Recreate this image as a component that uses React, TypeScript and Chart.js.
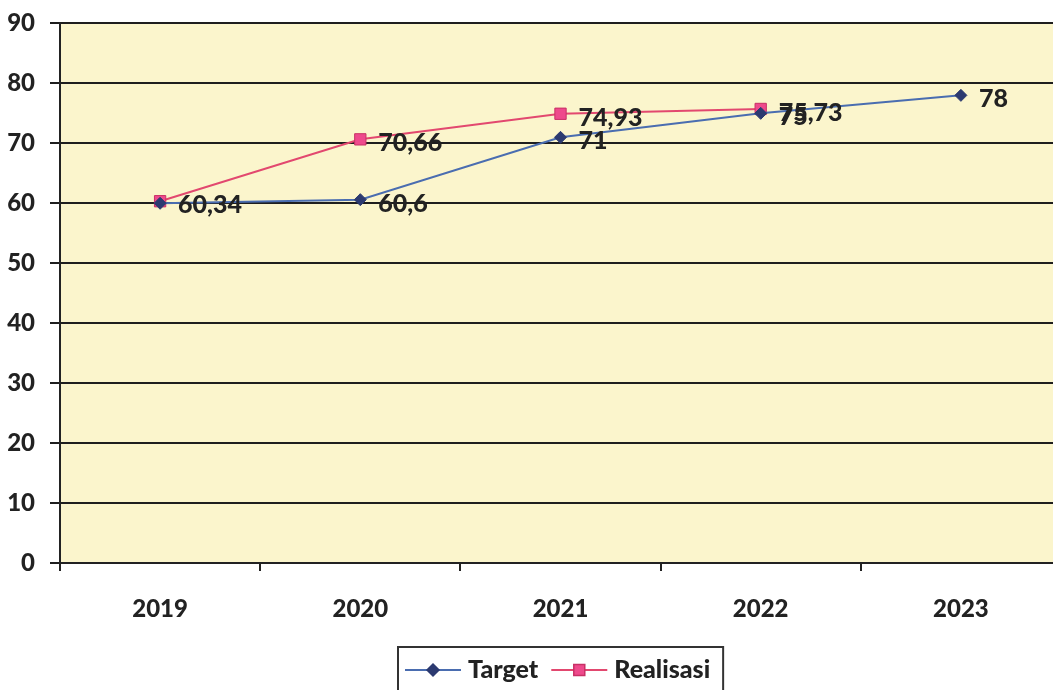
import React, { useEffect, useRef } from "react";
import { Chart, registerables } from "chart.js";

Chart.register(...registerables);

const years = ["2019", "2020", "2021", "2022", "2023"];
const targetValues = [60, 60.6, 71, 75, 78];
const realisasiValues: (number | null)[] = [60.34, 70.66, 74.93, 75.73, null];
// value labels as printed next to each point (null = no label)
const targetLabels: (string | null)[] = [null, "60,6", "71", "75", "78"];
const realisasiLabels: (string | null)[] = ["60,34", "70,66", "74,93", "75,73", null];
const yTicks = [0, 10, 20, 30, 40, 50, 60, 70, 80, 90];

const FONT = "Lato, 'DejaVu Sans', sans-serif";
const WEIGHT = "900";
const TEXT = "#222222";
const TARGET_LINE = "#4a6db0";
const TARGET_MARK = "#2c3a70";
const REAL_LINE = "#e2486f";
const REAL_MARK = "#ee4a8c";

const plotBackground = {
  id: "plotBackground",
  beforeDraw(chart: any) {
    const { ctx, chartArea } = chart;
    ctx.save();
    ctx.fillStyle = "#fbf5cc";
    ctx.fillRect(chartArea.left, chartArea.top, chartArea.right - chartArea.left, chartArea.bottom - chartArea.top);
    ctx.restore();
  },
};

const valueLabels = {
  id: "valueLabels",
  afterDatasetsDraw(chart: any) {
    const { ctx } = chart;
    const sets = [targetLabels, realisasiLabels];
    ctx.save();
    ctx.font = `${WEIGHT} 25px ${FONT}`;
    ctx.fillStyle = TEXT;
    ctx.textAlign = "left";
    ctx.textBaseline = "middle";
    sets.forEach((labels, di) => {
      const meta = chart.getDatasetMeta(di);
      meta.data.forEach((pt: any, i: number) => {
        const txt = labels[i];
        if (!txt) return;
        ctx.fillText(txt, pt.x + 18, pt.y + 4);
      });
    });
    ctx.restore();
  },
};

function drawMarker(ctx: CanvasRenderingContext2D, style: string, x: number, y: number, fill: string, stroke: string) {
  ctx.save();
  ctx.fillStyle = fill;
  ctx.strokeStyle = stroke;
  ctx.lineWidth = 1.5;
  ctx.beginPath();
  if (style === "rectRot") {
    ctx.moveTo(x, y - 6);
    ctx.lineTo(x + 6, y);
    ctx.lineTo(x, y + 6);
    ctx.lineTo(x - 6, y);
    ctx.closePath();
  } else {
    ctx.rect(x - 5.5, y - 5.5, 11, 11);
  }
  ctx.fill();
  ctx.stroke();
  ctx.restore();
}

const boxedLegend = {
  id: "boxedLegend",
  afterDraw(chart: any) {
    const { ctx, chartArea } = chart;
    const ds = chart.data.datasets;
    ctx.save();
    ctx.font = `${WEIGHT} 25px ${FONT}`;
    const lineLen = 56;
    const widths = ds.map((d: any) => ctx.measureText(d.label).width);
    const padL = 7, gapT = 7, gapItem = 13, padR = 13;
    const total = padL + ds.length * (lineLen + gapT) + widths.reduce((a: number, b: number) => a + b, 0) + gapItem * (ds.length - 1) + padR;
    const cx = (chartArea.left + chartArea.right) / 2;
    const left = Math.round(cx - total / 2);
    const top = chartArea.bottom + 84;
    const cy = chartArea.bottom + 107;
    ctx.fillStyle = "#ffffff";
    ctx.fillRect(left, top, total, 60);
    ctx.strokeStyle = "#333333";
    ctx.lineWidth = 2;
    ctx.strokeRect(left, top, total, 60);
    let x = left + padL;
    ds.forEach((d: any, i: number) => {
      ctx.strokeStyle = d.borderColor;
      ctx.lineWidth = 2;
      ctx.beginPath();
      ctx.moveTo(x, cy);
      ctx.lineTo(x + lineLen, cy);
      ctx.stroke();
      drawMarker(ctx, d.pointStyle, x + lineLen / 2, cy, d.pointBackgroundColor, d.pointBorderColor);
      x += lineLen + gapT;
      ctx.fillStyle = TEXT;
      ctx.textAlign = "left";
      ctx.textBaseline = "middle";
      ctx.fillText(d.label, x, cy);
      x += widths[i] + gapItem;
    });
    ctx.restore();
  },
};

export default function App() {
  const ref = useRef<HTMLCanvasElement | null>(null);

  useEffect(() => {
    if (!ref.current) return;
    const chart = new Chart(ref.current, {
      type: "line",
      data: {
        labels: years,
        datasets: [
          {
            label: "Target",
            data: targetValues,
            borderColor: TARGET_LINE,
            borderWidth: 2,
            pointStyle: "rectRot",
            pointRadius: 6,
            pointBackgroundColor: TARGET_MARK,
            pointBorderColor: TARGET_MARK,
            pointBorderWidth: 1,
            tension: 0,
          },
          {
            label: "Realisasi",
            data: realisasiValues,
            borderColor: REAL_LINE,
            borderWidth: 2,
            pointStyle: "rect",
            pointRadius: 8,
            pointBackgroundColor: REAL_MARK,
            pointBorderColor: "#c83066",
            pointBorderWidth: 1,
            tension: 0,
          },
        ],
      },
      options: {
        animation: false,
        responsive: false,
        maintainAspectRatio: false,
        layout: { padding: { top: 0, left: 0, right: 0, bottom: 0 } },
        plugins: {
          legend: { display: false },
          tooltip: { enabled: false },
        },
        scales: {
          x: {
            offset: true,
            grid: {
              offset: true,
              drawOnChartArea: false,
              color: "#222222",
              lineWidth: 2,
              tickLength: 8,
            },
            border: { color: "#222222", width: 2 },
            ticks: {
              color: TEXT,
              font: { family: FONT, size: 24, weight: WEIGHT },
              padding: 24,
            },
            afterFit(scale: any) {
              scale.height = 127;
            },
          },
          y: {
            min: 0,
            max: 90,
            afterBuildTicks(scale: any) {
              scale.ticks = yTicks.map((v) => ({ value: v }));
            },
            grid: {
              color: "#1e1e1e",
              lineWidth: 2,
              tickLength: 10,
            },
            border: { color: "#222222", width: 2 },
            ticks: {
              color: TEXT,
              font: { family: FONT, size: 24, weight: WEIGHT },
              padding: 15,
            },
            afterFit(scale: any) {
              scale.width = 60;
            },
          },
        },
      },
      plugins: [plotBackground, valueLabels, boxedLegend],
    });
    return () => chart.destroy();
  }, []);

  return (
    <div style={{ position: "fixed", left: 0, top: 0, width: 1053, height: 690, overflow: "hidden", background: "#ffffff" }}>
      <canvas
        ref={ref}
        width={1070}
        height={696}
        style={{ display: "block", width: 1070, height: 696, marginTop: -6 }}
      />
    </div>
  );
}
